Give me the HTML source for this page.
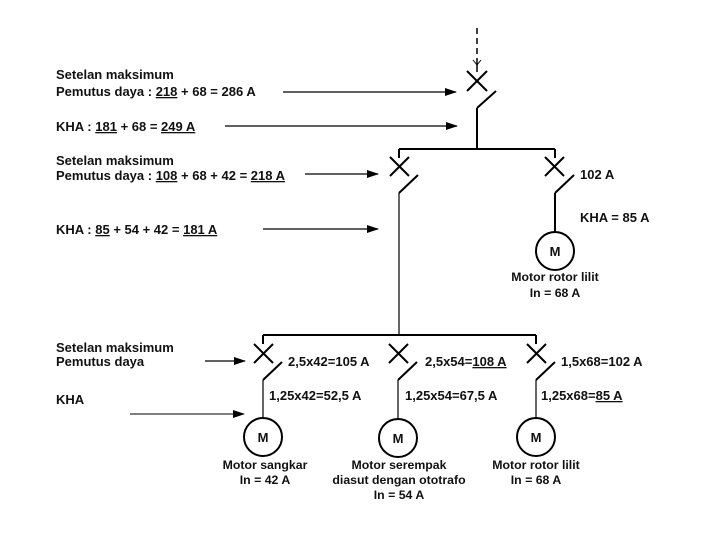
<!DOCTYPE html>
<html><head><meta charset="utf-8"><style>
html,body{margin:0;padding:0;background:#fff;width:720px;height:540px;overflow:hidden}
svg{display:block}
text{font-family:"Liberation Sans",Arial,sans-serif;font-size:13px;font-weight:bold;fill:#111}
text.m{font-size:12.3px}
</style></head><body>
<svg width="720" height="540" viewBox="0 0 720 540" xmlns="http://www.w3.org/2000/svg">
<defs>
<marker id="ah" markerWidth="12" markerHeight="8" refX="11" refY="4" orient="auto" markerUnits="userSpaceOnUse">
<path d="M0,0 L12,4 L0,8 z" fill="#000"/></marker>
</defs>
<g stroke="#000" stroke-width="2" fill="none">
<line x1="477" y1="28" x2="477" y2="64" stroke-width="1.5" stroke-dasharray="6,4"/>
<path d="M473,60 L477,65 L481,60" stroke-width="1"/>
<line x1="477" y1="64" x2="477" y2="72" stroke-width="1.5"/>
<path d="M467,71 L487,91 M487,71 L467,91"/>
<line x1="477" y1="108" x2="496" y2="91"/>
<line x1="477" y1="108" x2="477" y2="149"/>
<line x1="399" y1="149" x2="555" y2="149"/>
<line x1="399" y1="149" x2="399" y2="158"/>
<line x1="555" y1="149" x2="555" y2="158"/>
<path d="M390,157 L409,176 M409,157 L390,176"/>
<path d="M545,157 L564,176 M564,157 L545,176"/>
<line x1="399" y1="193" x2="418" y2="175"/>
<line x1="555" y1="193" x2="574" y2="175"/>
<line x1="399" y1="193" x2="399" y2="335" stroke-width="1.2"/>
<line x1="555" y1="193" x2="555" y2="232"/>
<circle cx="555" cy="251" r="19"/>
<line x1="263" y1="335" x2="536" y2="335"/>
<line x1="263" y1="335" x2="263" y2="344"/>
<line x1="536" y1="335" x2="536" y2="344"/>
<path d="M254,344 L273,363 M273,344 L254,363"/>
<path d="M389,344 L408,363 M408,344 L389,363"/>
<path d="M527,344 L546,363 M546,344 L527,363"/>
<line x1="263" y1="380" x2="282" y2="362"/>
<line x1="398" y1="380" x2="417" y2="362"/>
<line x1="536" y1="380" x2="555" y2="362"/>
<line x1="263" y1="380" x2="263" y2="418" stroke-width="1.2"/>
<line x1="398" y1="380" x2="398" y2="419" stroke-width="1.2"/>
<line x1="536" y1="380" x2="536" y2="418" stroke-width="1.2"/>
<circle cx="263" cy="437" r="19"/>
<circle cx="398" cy="438" r="19"/>
<circle cx="536" cy="437" r="19"/>
</g>
<g stroke="#000" stroke-width="1.3">
<line x1="283" y1="92" x2="456" y2="92" marker-end="url(#ah)"/>
<line x1="225" y1="126" x2="457" y2="126" marker-end="url(#ah)"/>
<line x1="305" y1="174" x2="378" y2="174" marker-end="url(#ah)"/>
<line x1="263" y1="229" x2="378" y2="229" marker-end="url(#ah)"/>
<line x1="205" y1="361" x2="245" y2="361" marker-end="url(#ah)"/>
<line x1="130" y1="414" x2="244" y2="414" stroke-width="1" marker-end="url(#ah)"/>
</g>
<text x="56" y="79">Setelan maksimum</text>
<text x="56" y="96">Pemutus daya : <tspan text-decoration="underline">218</tspan> + 68 = 286 A</text>
<text x="56" y="131">KHA : <tspan text-decoration="underline">181</tspan> + 68 = <tspan text-decoration="underline">249 A</tspan></text>
<text x="56" y="165">Setelan maksimum</text>
<text x="56" y="180">Pemutus daya : <tspan text-decoration="underline">108</tspan> + 68 + 42 = <tspan text-decoration="underline">218 A</tspan></text>
<text x="56" y="234">KHA : <tspan text-decoration="underline">85</tspan> + 54 + 42 = <tspan text-decoration="underline">181 A</tspan></text>
<text x="56" y="352">Setelan maksimum</text>
<text x="56" y="366">Pemutus daya</text>
<text x="56" y="404">KHA</text>
<text x="580" y="179">102 A</text>
<text x="580" y="222">KHA = 85 A</text>
<text x="555" y="256" text-anchor="middle">M</text>
<text class="m" x="555" y="281" text-anchor="middle">Motor rotor lilit</text>
<text class="m" x="555" y="297" text-anchor="middle">In = 68 A</text>
<text x="288" y="366">2,5x42=105 A</text>
<text x="425" y="366">2,5x54=<tspan text-decoration="underline">108 A</tspan></text>
<text x="561" y="366">1,5x68=102 A</text>
<text x="269" y="400">1,25x42=52,5 A</text>
<text x="405" y="400">1,25x54=67,5 A</text>
<text x="541" y="400">1,25x68=<tspan text-decoration="underline">85 A</tspan></text>
<text x="263" y="442" text-anchor="middle">M</text>
<text x="398" y="443" text-anchor="middle">M</text>
<text x="536" y="442" text-anchor="middle">M</text>
<text class="m" x="265" y="469" text-anchor="middle">Motor sangkar</text>
<text class="m" x="265" y="484" text-anchor="middle">In = 42 A</text>
<text class="m" x="399" y="469" text-anchor="middle">Motor serempak</text>
<text class="m" x="399" y="484" text-anchor="middle">diasut dengan ototrafo</text>
<text class="m" x="399" y="499" text-anchor="middle">In = 54 A</text>
<text class="m" x="536" y="469" text-anchor="middle">Motor rotor lilit</text>
<text class="m" x="536" y="484" text-anchor="middle">In = 68 A</text>
</svg>
</body></html>
